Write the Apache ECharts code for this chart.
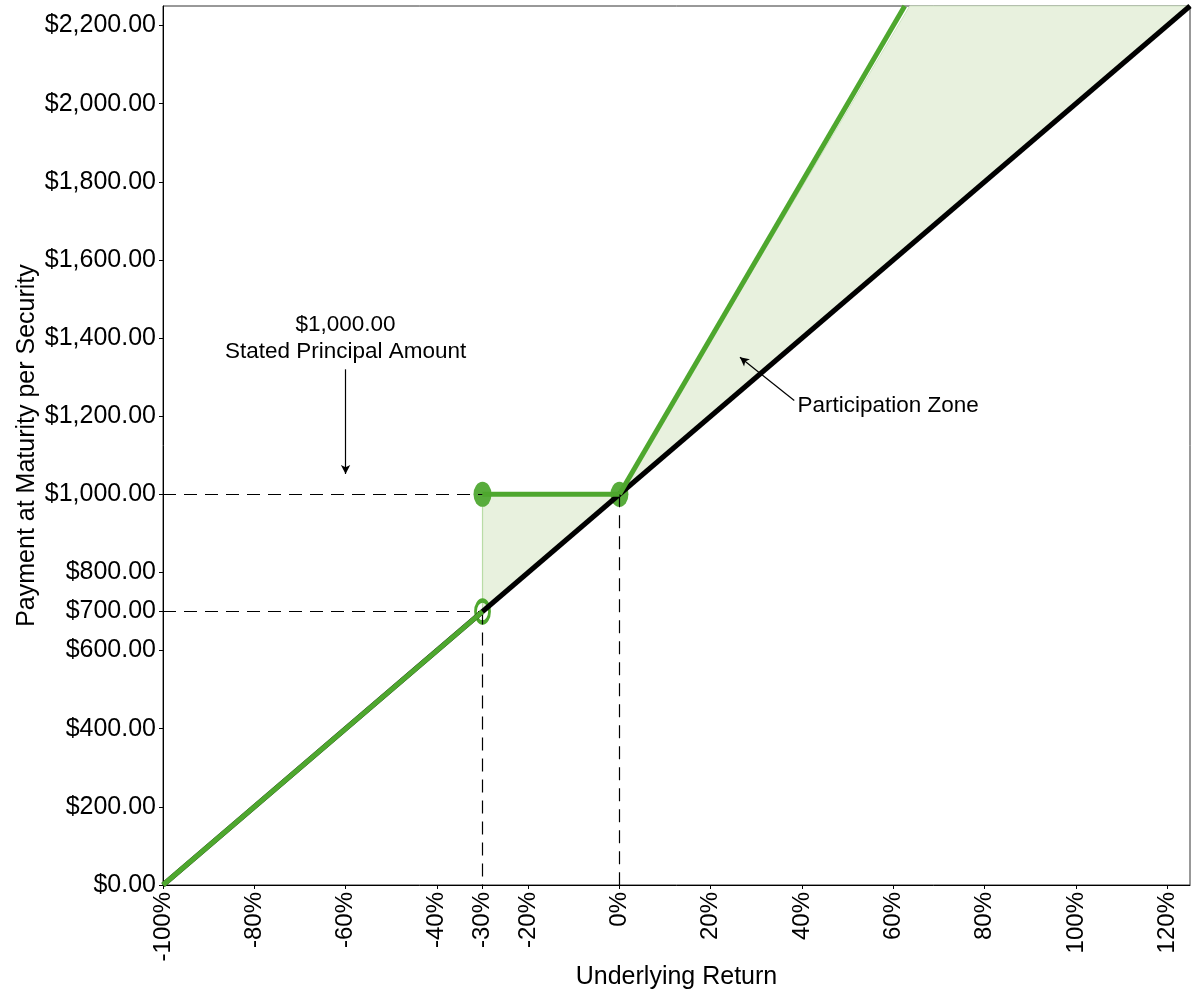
<!DOCTYPE html>
<html>
<head>
<meta charset="utf-8">
<title>Payment at Maturity</title>
<script src="https://cdn.jsdelivr.net/npm/echarts@6/dist/echarts.min.js"></script>
<style>
  html, body { margin: 0; padding: 0; background: #fff; }
  #chart { width: 1200px; height: 1000px; }
</style>
</head>
<body>
<div id="chart"></div>
<script>
// underlying return (%) and payment ($) pairs
var stockX = [-100, 125];
var stockY = [0, 2250];
var lowLegX = [-100, -30];
var lowLegY = [0, 700];
var flatLegX = [-30, 0];
var flatLegY = [1000, 1000];
var upLegX = [0, 62.5];
var upLegY = [1000, 2250];

var filledDots = [[-30, 1000], [0, 1000]];
var hollowDots = [[-30, 700]];

// shaded zones (polygon corners)
var bufferZone = [[-30, 1000], [0, 1000], [-30, 700]];
var participationZone = [[0, 1000], [63.6, 2250], [125, 2250]];

// dashed guides
var guideLines = [
  [[-100, 1000], [-30, 1000]],
  [[-100, 700], [-30, 700]],
  [[-30, 700], [-30, 0]],
  [[0, 1000], [0, 0]]
];

// tick labels
var xTicks = [-100, -80, -60, -40, -30, -20, 0, 20, 40, 60, 80, 100, 120];
var yTicks = [0, 200, 400, 600, 700, 800, 1000, 1200, 1400, 1600, 1800, 2000, 2200];

// annotations
var notePrincipal = { text: '$1,000.00\nStated Principal Amount', at: [-60, 1399] };
var notePrincipalArrow = [[-60, 1320], [-60, 1052]];
var noteZone = { text: 'Participation Zone', at: [39, 1226] };
var noteZoneArrow = [[38.3, 1240], [26.4, 1351]];

var GREEN = '#4EA72E';
var DOT = '#58AC3C';
var SHADE = '#E8F1DE';
var FONT = 'Liberation Sans, Arial, sans-serif';

function pairs(xs, ys) {
  return xs.map(function (x, i) { return [x, ys[i]]; });
}
function money(v) {
  var s = v.toFixed(2).split('.');
  return '$' + s[0].replace(/\B(?=(\d{3})+(?!\d))/g, ',') + '.' + s[1];
}
var ovalPath = 'path://M10,0A10,10,0,1,1,10,20A10,10,0,1,1,10,0Z';
var zones = [bufferZone, participationZone];

var myChart = echarts.init(document.getElementById('chart'));

var option = {
  animation: false,
  textStyle: { fontFamily: FONT },
  grid: {
    left: 163, right: 10, top: 6, bottom: 115,
    show: true, borderColor: '#333', borderWidth: 1,
    outerBoundsMode: 'none'
  },
  xAxis: {
    type: 'value', min: -100, max: 125,
    name: 'Underlying Return', nameLocation: 'middle', nameGap: 80, nameMoveOverlap: false,
    nameTextStyle: { fontSize: 25, color: '#000', fontFamily: FONT },
    splitLine: { show: false },
    axisLine: { onZero: false, lineStyle: { color: '#000', width: 1 } },
    axisTick: { show: true, length: 4, customValues: xTicks, lineStyle: { color: '#000' } },
    axisLabel: {
      customValues: xTicks, rotate: 90, margin: 7, fontSize: 24, color: '#000', fontFamily: FONT,
      formatter: function (v) { return v + '%'; }
    }
  },
  yAxis: {
    type: 'value', min: 0, max: 2250,
    name: 'Payment at Maturity per Security', nameLocation: 'middle', nameGap: 123, nameMoveOverlap: false,
    nameTextStyle: { fontSize: 25, color: '#000', fontFamily: FONT },
    splitLine: { show: false },
    axisLine: { show: true, onZero: false, lineStyle: { color: '#000', width: 1 } },
    axisTick: { show: true, length: 4, customValues: yTicks, lineStyle: { color: '#000' } },
    axisLabel: {
      customValues: yTicks, margin: 7, fontSize: 25, color: '#000', fontFamily: FONT,
      formatter: function (v) { return money(v); }
    }
  },
  series: [
    {
      type: 'custom', z: 1, silent: true,
      data: zones.map(function (z, i) { return [0, 1000, i]; }),
      renderItem: function (params, api) {
        var zone = zones[api.value(2)];
        var pts = zone.map(function (p) { return api.coord(p); });
        return {
          type: 'polygon',
          shape: { points: pts },
          style: { fill: SHADE, stroke: '#CFE5C2', lineWidth: 1 }
        };
      }
    },
    {
      type: 'line', z: 2, silent: true, symbol: 'none',
      data: [bufferZone[2], bufferZone[0]],
      lineStyle: { color: '#B9DCA6', width: 1.2 }
    },
    {
      type: 'line', z: 3, silent: true, symbol: 'none', data: [],
      markLine: {
        silent: true, symbol: ['none', 'none'], label: { show: false },
        lineStyle: { color: '#000', width: 1.2, type: [13, 8] },
        data: guideLines.map(function (g) { return [{ coord: g[0] }, { coord: g[1] }]; })
      }
    },
    {
      type: 'scatter', z: 4, silent: true,
      data: filledDots, symbol: ovalPath, symbolSize: [18, 25],
      itemStyle: { color: DOT, opacity: 1 }
    },
    {
      type: 'scatter', z: 4, silent: true,
      data: hollowDots, symbol: ovalPath, symbolSize: [14, 22],
      itemStyle: { color: 'rgba(0,0,0,0)', borderColor: GREEN, borderWidth: 3.5, opacity: 1 }
    },
    {
      type: 'line', z: 5, silent: true, symbol: 'none',
      data: pairs(stockX, stockY),
      lineStyle: { color: '#000', width: 5 }
    },
    {
      type: 'line', z: 6, silent: true, symbol: 'none',
      data: pairs(lowLegX, lowLegY),
      lineStyle: { color: GREEN, width: 5 }
    },
    {
      type: 'line', z: 6, silent: true, symbol: 'none',
      data: pairs(flatLegX, flatLegY),
      lineStyle: { color: GREEN, width: 5 }
    },
    {
      type: 'line', z: 6, silent: true, symbol: 'none',
      data: pairs(upLegX, upLegY),
      lineStyle: { color: GREEN, width: 5 }
    },
    {
      type: 'line', z: 7, silent: true, symbol: 'none', data: [],
      markLine: {
        silent: true, symbol: ['none', 'arrow'], symbolSize: [7, 9], label: { show: false },
        lineStyle: { color: '#000', width: 1.2, type: 'solid' },
        data: [
          [{ coord: notePrincipalArrow[0] }, { coord: notePrincipalArrow[1] }],
          [{ coord: noteZoneArrow[0] }, { coord: noteZoneArrow[1] }]
        ]
      }
    },
    {
      type: 'scatter', z: 8, silent: true, symbolSize: 0,
      data: [notePrincipal.at],
      itemStyle: { opacity: 1 },
      label: {
        show: true, position: 'inside', formatter: notePrincipal.text,
        fontSize: 22.5, lineHeight: 27, align: 'center', verticalAlign: 'middle',
        color: '#000', opacity: 1, fontFamily: FONT
      }
    },
    {
      type: 'scatter', z: 8, silent: true, symbolSize: 0,
      data: [noteZone.at],
      itemStyle: { opacity: 1 },
      label: {
        show: true, position: 'inside', formatter: noteZone.text,
        fontSize: 22.5, align: 'left', verticalAlign: 'middle',
        color: '#000', opacity: 1, fontFamily: FONT
      }
    }
  ]
};

myChart.setOption(option);
</script>
</body>
</html>
